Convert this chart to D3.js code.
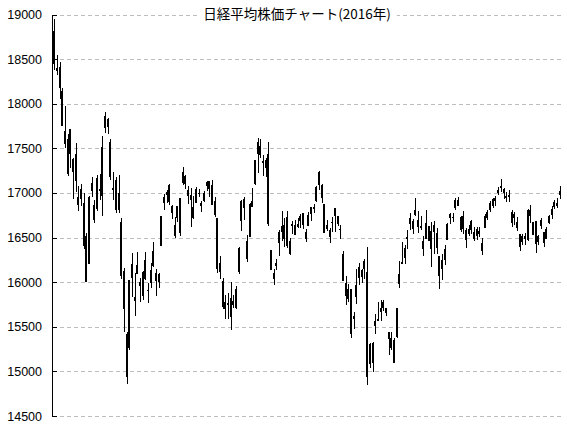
<!DOCTYPE html>
<html>
<head>
<meta charset="utf-8">
<script src="https://cdn.jsdelivr.net/npm/d3@7"></script>
<style>
  body { margin: 0; background: #fff; }
  svg { display: block; }
  .tick-label { font-family: "Liberation Sans", Arial, sans-serif; font-size: 12.5px; fill: #000; }
  .title { font-family: "Noto Sans CJK JP", sans-serif; font-size: 13.5px; fill: #000; }
  .grid { stroke: #bdbdbd; stroke-width: 1; stroke-dasharray: 4,3; }
  .axis { stroke: #000; stroke-width: 1; }
</style>
</head>
<body>
<svg id="chart" width="567" height="431"></svg>
<script>
// trading days, Jan 4 - Oct 11 2016
const dates = [
  "01/04","01/05","01/06","01/07","01/08","01/12","01/13","01/14","01/15","01/18","01/19","01/20","01/21","01/22","01/25","01/26","01/27","01/28","01/29",
  "02/01","02/02","02/03","02/04","02/05","02/08","02/09","02/10","02/12","02/15","02/16","02/17","02/18","02/19","02/22","02/23","02/24","02/25","02/26","02/29",
  "03/01","03/02","03/03","03/04","03/07","03/08","03/09","03/10","03/11","03/14","03/15","03/16","03/17","03/18","03/22","03/23","03/24","03/25","03/28","03/29","03/30","03/31",
  "04/01","04/04","04/05","04/06","04/07","04/08","04/11","04/12","04/13","04/14","04/15","04/18","04/19","04/20","04/21","04/22","04/25","04/26","04/27","04/28",
  "05/02","05/06","05/09","05/10","05/11","05/12","05/13","05/16","05/17","05/18","05/19","05/20","05/23","05/24","05/25","05/26","05/27","05/30","05/31",
  "06/01","06/02","06/03","06/06","06/07","06/08","06/09","06/10","06/13","06/14","06/15","06/16","06/17","06/20","06/21","06/22","06/23","06/24","06/27","06/28","06/29","06/30",
  "07/01","07/04","07/05","07/06","07/07","07/08","07/11","07/12","07/13","07/14","07/15","07/19","07/20","07/21","07/22","07/25","07/26","07/27","07/28","07/29",
  "08/01","08/02","08/03","08/04","08/05","08/08","08/09","08/10","08/12","08/15","08/16","08/17","08/18","08/19","08/22","08/23","08/24","08/25","08/26","08/29","08/30","08/31",
  "09/01","09/02","09/05","09/06","09/07","09/08","09/09","09/12","09/13","09/14","09/15","09/16","09/20","09/21","09/23","09/26","09/27","09/28","09/29","09/30",
  "10/03","10/04","10/05","10/06","10/07","10/11"
];

const opens = [
  18818,18399,18411,18140,17562,17604,17450,17381,17434,16873,16940,16890,16522,16211,17033,16868,16836,17035,16973,
  17741,17826,17566,17060,17148,16825,16672,16130,15420,15270,16200,15800,16103,16004,15856,16252,15908,16005,16347,16107,
  16010,16420,16897,16993,17085,16857,16525,16731,16567,17126,17195,17033,16982,16846,16902,16994,16863,16924,17125,17060,17093,16915,
  16719,16218,16014,15782,15766,15619,15788,15717,16123,16697,16935,16458,16516,16849,17114,17450,17525,17349,17372,17431,
  16357,16042,16190,16453,16629,16493,16728,16332,16638,16538,16633,16696,16771,16565,16644,16848,16839,16922,17104,
  17085,16873,16605,16520,16679,16757,16747,16596,16319,15993,15823,15928,15617,15848,16057,16133,16161,16117,15090,15100,15521,15588,
  15711,15724,15709,15441,15379,15353,15396,15992,16220,16277,16508,16659,16605,16764,16702,16635,16464,16497,16634,16379,
  16570,16549,16288,16159,16375,16485,16733,16729,16846,16924,16727,16604,16590,16596,16685,16557,16534,16579,16436,16620,16785,16816,
  16868,16942,17014,17070,17039,16963,16980,16784,16759,16679,16538,16458,16522,16486,16808,16670,16437,16521,16638,16561,
  16500,16676,16759,16851,16885,16984
];

const highs = [
  18951,18547,18469,18172,17975,17656,17716,17389,17560,17078,17098,16996,16552,16968,17175,16921,17200,17216,17638,
  17905,17836,17601,17230,17179,17200,16723,16160,15440,16022,16330,16100,16340,16050,16125,16340,15995,16210,16450,16146,
  16107,16747,16983,17037,17097,16860,16726,16853,16947,17291,17204,17075,17060,16963,17062,17039,16906,17026,17133,17134,17144,16957,
  16719,16289,16046,15856,15875,16000,15854,15960,16395,16921,16960,16530,16884,17050,17363,17613,17610,17424,17394,17572,
  16357,16150,16258,16580,16800,16717,16800,16496,16683,16692,16715,16763,16771,16597,16787,16848,16876,17077,17251,
  17103,16873,16700,16609,16733,16832,16747,16637,16350,16070,15980,15929,15671,16150,16210,16143,16263,16389,15320,15330,15640,15780,
  15795,15800,15710,15441,15438,15377,15708,16240,16450,16414,16582,16772,16706,16938,16800,16745,16521,16810,16600,16670,
  16685,16612,16288,16316,16417,16662,16773,16778,16942,16954,16742,16796,16606,16646,16697,16618,16620,16621,16492,16759,16805,16906,
  16946,16966,17072,17156,17059,17009,17035,16806,16785,16729,16538,16535,16555,16824,16860,16670,16683,16533,16721,16564,
  16620,16753,16855,16923,16947,17076
];

const lows = [
  18394,18328,18064,17767,17510,17198,17286,16944,17020,16808,16868,16387,16017,16211,16970,16672,16805,16936,16758,
  17683,17677,17151,16930,16784,16783,16046,15450,14865,15250,15850,15630,16100,15790,15815,16040,15780,15950,16180,15857,
  15950,16420,16815,16900,16880,16720,16504,16683,16530,17100,17060,16889,16631,16715,16902,16961,16803,16909,17030,16971,16876,16739,
  16112,16043,15715,15600,15600,15471,15718,15707,16100,16590,16710,16237,16570,16880,17102,17230,17402,17200,17187,16640,
  16147,15975,16144,16300,16470,16410,16390,16317,16550,16537,16619,16618,16602,16457,16640,16698,16783,16915,17048,
  16904,16562,16580,16446,16570,16570,16636,16491,16019,15760,15790,15380,15491,15770,15980,16000,16050,14864,15050,15000,15430,15580,
  15580,15684,15627,15190,15250,15110,15386,15950,16230,16219,16380,16600,16550,16750,16559,16593,16300,16560,16470,16180,
  16330,16323,15930,16040,16207,16485,16658,16680,16820,16860,16574,16548,16398,16532,16547,16474,16482,16523,16318,16614,16705,16800,
  16838,16862,16987,17024,16938,16905,16907,16630,16652,16587,16357,16427,16426,16474,16677,16535,16338,16433,16607,16407,
  16500,16667,16716,16833,16848,16947
];

const closes = [
  18451,18374,18191,17767,17698,17219,17716,17241,17147,16956,17048,16416,16017,16959,17111,16709,17164,17041,17518,
  17865,17751,17191,17045,16820,17004,16085,15713,14953,16022,16054,15836,16197,15967,16111,16052,15916,16140,16188,16027,
  16086,16747,16960,17015,16911,16783,16642,16852,16939,17234,17117,16974,16936,16725,17049,17001,16892,17003,17092,17134,16879,16759,
  16164,16123,15733,15715,15750,15822,15751,15929,16381,16911,16848,16276,16874,16907,17364,17572,17439,17353,17290,16666,
  16147,16107,16216,16565,16579,16646,16412,16466,16653,16645,16647,16736,16655,16499,16757,16772,16835,17068,17235,
  16956,16563,16642,16580,16675,16831,16668,16601,16019,15859,15920,15434,15600,15965,16169,16066,16238,14952,15309,15323,15567,15576,
  15682,15776,15669,15379,15276,15107,15709,16096,16231,16386,16498,16723,16682,16810,16627,16620,16383,16665,16477,16569,
  16636,16391,16083,16254,16255,16651,16765,16735,16920,16870,16597,16746,16486,16546,16598,16497,16597,16556,16361,16737,16725,16887,
  16927,16926,17038,17082,17012,16959,16966,16673,16729,16614,16405,16519,16492,16808,16754,16545,16684,16465,16694,16450,
  16599,16736,16819,16899,16860,17025
];

const yTicks = [14500, 15000, 15500, 16000, 16500, 17000, 17500, 18000, 18500, 19000];
const chartTitle = "日経平均株価チャート(2016年)";

const plotLeft = 53, plotRight = 561, plotTop = 14.5, plotBottom = 416;

const svg = d3.select('#chart');

const x = d3.scaleBand()
  .domain(d3.range(dates.length))
  .range([plotLeft, plotRight])
  .padding(0);

const y = d3.scaleLinear()
  .domain([14500, 19000])
  .range([plotBottom, plotTop]);

// dashed gridlines
svg.append('g')
  .selectAll('line')
  .data(yTicks)
  .join('line')
  .attr('class', 'grid')
  .attr('x1', plotLeft)
  .attr('x2', plotRight)
  .attr('y1', d => Math.round(y(d)) + 0.5)
  .attr('y2', d => Math.round(y(d)) + 0.5);

// title with white box so the top gridline breaks around it
const titleG = svg.append('g');
const titleText = titleG.append('text')
  .attr('class', 'title')
  .attr('x', 297)
  .attr('y', 19)
  .attr('text-anchor', 'middle')
  .text(chartTitle);
const bb = titleText.node().getBBox();
titleG.insert('rect', 'text')
  .attr('x', bb.x - 6)
  .attr('y', bb.y)
  .attr('width', bb.width + 12)
  .attr('height', bb.height)
  .attr('fill', '#fff');

// y axis
svg.append('line')
  .attr('class', 'axis')
  .attr('x1', plotLeft - 0.5)
  .attr('x2', plotLeft - 0.5)
  .attr('y1', Math.round(y(19000)))
  .attr('y2', Math.round(y(14500)) + 1);

const yAxis = svg.append('g');
yAxis.selectAll('line')
  .data(yTicks)
  .join('line')
  .attr('class', 'axis')
  .attr('x1', plotLeft - 1)
  .attr('x2', plotLeft + 4)
  .attr('y1', d => Math.round(y(d)) + 0.5)
  .attr('y2', d => Math.round(y(d)) + 0.5);

yAxis.selectAll('text')
  .data(yTicks)
  .join('text')
  .attr('class', 'tick-label')
  .attr('x', 42)
  .attr('y', d => y(d))
  .attr('dy', '0.36em')
  .attr('text-anchor', 'end')
  .text(d => d);

// candles: 1px wick, 2px body, all black
const n = Math.min(dates.length, opens.length, highs.length, lows.length, closes.length);
const candles = svg.append('g');

for (let i = 0; i < n; i++) {
  const cx = Math.round(x(i) + x.bandwidth() / 2);
  const yHi = y(highs[i]), yLo = y(lows[i]);
  const yTop = Math.min(y(opens[i]), y(closes[i]));
  const yBot = Math.max(y(opens[i]), y(closes[i]));

  candles.append('line')
    .attr('x1', cx + 0.5)
    .attr('x2', cx + 0.5)
    .attr('y1', Math.round(yHi))
    .attr('y2', Math.round(yLo) + 1)
    .attr('stroke', '#000')
    .attr('stroke-width', 1);

  candles.append('rect')
    .attr('x', cx - 1)
    .attr('y', Math.round(yTop))
    .attr('width', 2)
    .attr('height', Math.max(1, Math.round(yBot) - Math.round(yTop) + 1))
    .attr('fill', '#000');
}
</script>
</body>
</html>
